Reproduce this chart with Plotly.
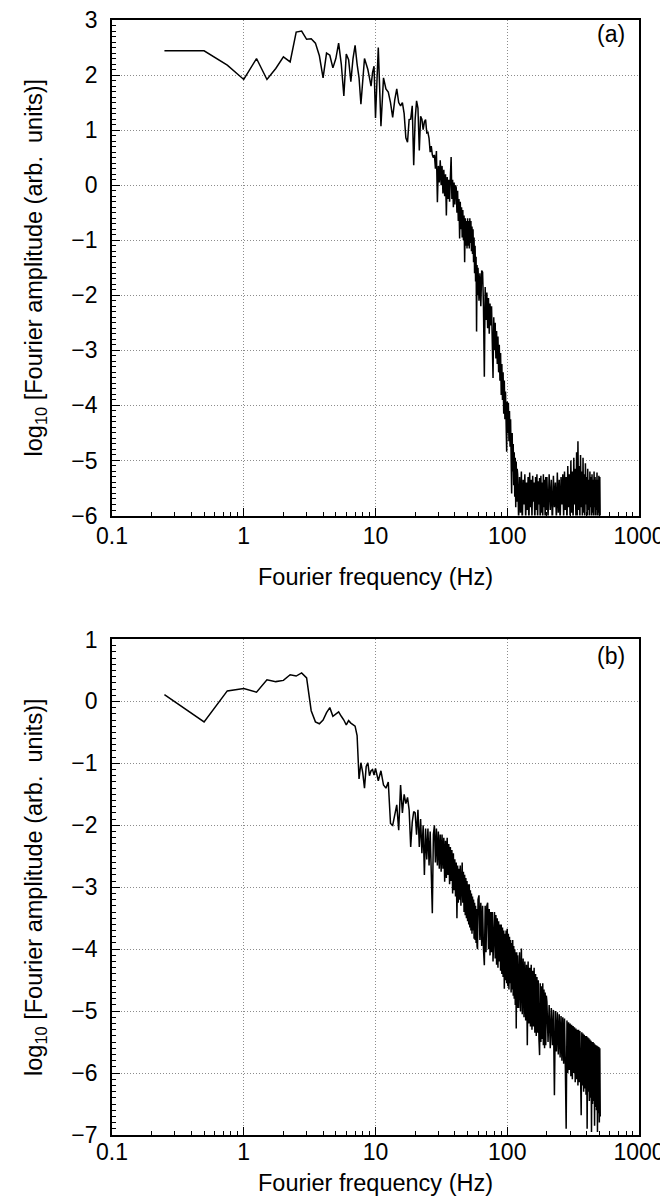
import plotly.graph_objects as go

# ---------------- shared Fourier-frequency grid (Hz) ----------------
freq_low = [0.25, 0.5, 0.75, 1.0, 1.25, 1.5, 1.75, 2.0, 2.25, 2.5,
            2.75, 3.0, 3.25, 3.5, 3.75, 4.0, 4.25, 4.5, 4.75, 5.0,
            5.25, 5.5, 5.75, 6.0, 6.25, 6.5, 6.75, 7.0, 7.25, 7.5,
            7.75, 8.0, 8.25, 8.5, 8.75, 9.0, 9.25, 9.5, 9.75, 10.0]
freq_mid = [10.5, 11.0, 11.5, 12.0, 12.5, 13.0, 13.5, 14.0, 14.5, 15.0,
            15.5, 16.0, 16.5, 17.0, 17.5, 18.0, 18.5, 19.0, 19.5, 20.0,
            20.5, 21.0, 21.5, 22.0, 22.5, 23.0, 23.5, 24.0, 24.5, 25.0,
            25.5, 26.0, 26.5, 27.0, 27.5, 28.0, 28.5, 29.0, 29.5, 30.0,
            30.5, 31.0, 31.5, 32.0, 32.5, 33.0, 33.5, 34.0, 34.5, 35.0,
            35.5, 36.0, 36.5, 37.0, 37.5, 38.0, 38.5, 39.0, 39.5, 40.0,
            40.5, 41.0, 41.5, 42.0, 42.5, 43.0, 43.5, 44.0, 44.5, 45.0,
            45.5, 46.0, 46.5, 47.0, 47.5, 48.0, 48.5, 49.0, 49.5, 50.0,
            50.5, 51.0, 51.5, 52.0, 52.5, 53.0, 53.5, 54.0, 54.5, 55.0,
            55.5, 56.0, 56.5, 57.0, 57.5, 58.0, 58.5, 59.0, 59.5]
freq_high1 = [60, 61, 62, 63, 64, 65, 66, 67, 68, 69,
              70, 71, 72, 73, 74, 75, 76, 77, 78, 79,
              80, 81, 82, 83, 84, 85, 86, 87, 88, 89,
              90, 91, 92, 93, 94, 95, 96, 97, 98, 99,
              100, 101, 102, 103, 104, 105, 106, 107, 108, 109,
              110, 111, 112, 113, 114, 115, 116, 117, 118, 119]
freq_high2 = [120, 122, 124, 126, 128, 130, 132, 134, 136, 138,
              140, 142, 144, 146, 148, 150, 152, 154, 156, 158,
              160, 162, 164, 166, 168, 170, 172, 174, 176, 178,
              180, 182, 184, 186, 188, 190, 192, 194, 196, 198]
freq_high3 = [200, 204, 208, 212, 216, 220, 224, 228, 232, 236,
              240, 244, 248, 252, 256, 260, 264, 268, 272, 276,
              280, 284, 288, 292, 296, 300, 304, 308, 312, 316,
              320, 324, 328, 332, 336, 340, 344, 348, 352, 356,
              360, 364, 368, 372, 376, 380, 384, 388, 392, 396,
              400, 404, 408, 412, 416, 420, 424, 428, 432, 436,
              440, 444, 448, 452, 456, 460, 464, 468, 472, 476,
              480, 484, 488, 492, 496, 500, 504, 508]

# ---------------- panel (a): log10 Fourier amplitude ----------------
amp_a_low = [2.44, 2.44, 2.18, 1.92, 2.30, 1.92, 2.12, 2.33, 2.24, 2.78,
             2.80, 2.65, 2.66, 2.58, 2.35, 1.95, 2.40, 2.36, 2.13, 2.30,
             2.58, 2.20, 1.62, 2.38, 2.28, 1.88, 2.30, 2.54, 2.20, 1.95,
             1.47, 1.90, 2.30, 2.20, 2.10, 1.95, 1.80, 2.05, 2.16, 1.22]
amp_a_mid = [2.50, 1.07, 1.95, 1.75, 1.69, 1.50, 1.23, 1.55, 1.75, 1.50,
             1.44, 1.50, 1.30, 0.86, 0.78, 1.19, 1.20, 1.44, 0.36, 1.20,
             1.53, 1.40, 0.63, 1.25, 1.20, 1.01, 1.15, 1.19, 0.95, 0.96,
             0.85, 0.60, 0.71, 0.55, 0.50, 0.55, 0.30, 0.62, -0.31, 0.35,
             0.05, 0.45, 0.00, 0.35, -0.15, 0.28, -0.20, 0.20, -0.55, 0.15,
             -0.25, 0.10, -0.30, 0.15, 0.51, -0.25, 0.10, -0.40, 0.05, -0.35,
             0.00, -0.05, -0.50, -0.10, -0.65, -0.25, -0.97, -0.30, -0.80, -0.40,
             -0.95, -0.45, -1.00, -0.55, -1.40, -0.60, -1.10, -0.65, -1.15, -0.60,
             -1.10, -0.65, -1.15, -0.60, -1.05, -0.65, -1.20, -0.75, -1.25, -0.80,
             -1.40, -0.95, -1.60, -1.10, -1.75, -1.30, -2.66, -1.45, -2.00]
amp_a_high1 = [-1.50, -2.10, -1.60, -2.20, -1.55, -1.58, -2.20, -3.48, -1.85, -2.45,
               -1.95, -2.60, -2.05, -2.70, -2.15, -2.55, -2.20, -2.85, -3.50, -2.40,
               -3.00, -2.50, -3.15, -2.65, -3.25, -2.75, -3.40, -2.90, -3.55, -3.05,
               -3.81, -3.25, -3.90, -3.40, -4.15, -3.55, -4.25, -3.75, -4.45, -4.84,
               -3.93, -4.50, -3.95, -4.65, -4.10, -4.75, -4.25, -4.90, -5.60, -4.50,
               -5.20, -4.70, -5.45, -4.85, -5.66, -4.95, -5.85, -5.02, -5.75, -5.15]
amp_a_high2 = [-5.25, -6.10, -5.30, -5.95, -5.20, -6.20, -5.35, -5.80, -5.25, -6.10,
               -5.40, -5.90, -5.30, -6.20, -5.22, -5.85, -5.35, -6.05, -5.28, -5.75,
               -5.40, -6.15, -5.30, -5.90, -5.25, -6.10, -5.38, -5.80, -5.32, -6.20,
               -5.28, -5.95, -5.40, -6.05, -5.25, -5.85, -5.35, -6.15, -5.30, -5.90]
amp_a_high3 = [-5.30, -6.05, -5.25, -5.90, -5.35, -6.20, -5.28, -5.85, -5.40, -6.10,
               -5.22, -5.95, -5.35, -6.15, -5.30, -5.80, -5.25, -6.05, -5.20, -5.90,
               -5.30, -6.20, -5.10, -5.85, -5.25, -6.10, -5.00, -5.95, -5.20, -6.15,
               -4.95, -5.80, -5.15, -6.05, -4.85, -6.20, -4.65, -5.90, -5.10, -6.10,
               -4.90, -5.85, -5.20, -6.15, -4.95, -5.95, -5.25, -6.05, -5.05, -5.80,
               -5.30, -6.20, -5.15, -5.90, -5.35, -6.10, -5.20, -5.85, -5.30, -6.05,
               -5.25, -5.95, -5.35, -6.20, -5.20, -5.85, -5.30, -6.10, -5.35, -5.90,
               -5.22, -6.15, -5.35, -5.95, -5.28, -6.05, -5.30, -6.20]

# ---------------- panel (b): log10 Fourier amplitude ----------------
amp_b_low = [0.11, -0.33, 0.17, 0.21, 0.15, 0.35, 0.32, 0.34, 0.43, 0.41,
             0.46, 0.38, -0.15, -0.33, -0.36, -0.30, -0.18, -0.10, -0.24, -0.20,
             -0.17, -0.24, -0.30, -0.38, -0.31, -0.35, -0.37, -0.40, -0.55, -1.25,
             -0.99, -1.15, -1.40, -1.05, -0.99, -1.20, -1.12, -1.10, -1.19, -1.08]
amp_b_mid = [-1.28, -1.12, -1.35, -1.40, -1.30, -1.97, -2.00, -1.85, -1.67, -2.08,
             -1.35, -1.80, -1.50, -1.65, -1.55, -1.75, -2.35, -1.95, -1.78, -1.80,
             -2.15, -1.75, -2.35, -1.90, -2.45, -2.00, -2.80, -2.05, -2.55, -2.05,
             -2.65, -2.10, -2.75, -3.42, -2.15, -2.00, -2.60, -2.05, -2.65, -2.10,
             -2.70, -2.15, -2.75, -2.15, -2.70, -2.20, -2.91, -2.25, -2.85, -2.20,
             -2.80, -2.30, -2.95, -2.35, -2.90, -2.40, -3.10, -2.45, -3.05, -2.55,
             -3.15, -2.60, -3.50, -2.65, -3.25, -2.70, -3.20, -2.65, -3.30, -2.70,
             -2.60, -3.25, -2.75, -3.40, -2.80, -3.45, -2.85, -3.50, -2.90, -3.55,
             -2.95, -3.60, -2.95, -3.65, -3.05, -3.70, -3.10, -3.75, -3.15, -3.70,
             -3.20, -3.83, -3.25, -3.85, -3.30, -3.90, -3.35, -3.95, -4.00]
amp_b_high1 = [-3.20, -3.13, -3.85, -3.25, -3.95, -3.30, -4.00, -4.26, -3.30, -4.05,
               -3.30, -3.25, -4.00, -3.35, -4.10, -3.40, -4.05, -3.40, -4.20, -3.45,
               -3.40, -4.15, -3.45, -4.25, -3.50, -4.30, -3.55, -4.20, -3.60, -4.35,
               -3.60, -4.40, -3.65, -4.45, -3.70, -4.64, -3.75, -4.50, -3.70, -4.55,
               -3.67, -4.60, -3.75, -4.65, -3.80, -4.55, -3.85, -4.70, -3.90, -4.65,
               -3.85, -4.75, -3.95, -4.80, -4.00, -4.90, -4.05, -5.28, -4.05, -4.95]
amp_b_high2 = [-4.10, -4.95, -4.05, -5.00, -3.99, -5.05, -4.15, -5.10, -4.20, -5.15,
               -4.25, -5.55, -4.20, -5.20, -4.30, -5.25, -4.25, -5.30, -4.35, -5.25,
               -4.30, -5.35, -4.40, -5.40, -4.45, -5.35, -4.50, -5.45, -5.71, -4.55,
               -5.50, -4.60, -5.45, -4.55, -5.55, -4.65, -5.60, -4.70, -5.55, -4.75]
amp_b_high3 = [-4.85, -5.50, -4.90, -5.60, -4.95, -5.55, -4.98, -6.36, -5.00, -5.65,
               -5.02, -5.70, -5.05, -5.75, -5.08, -5.80, -5.10, -5.85, -5.12, -5.90,
               -6.90, -5.15, -6.00, -5.18, -5.95, -5.20, -6.05, -5.22, -6.10, -5.24,
               -6.00, -5.26, -6.15, -5.28, -6.10, -5.30, -6.20, -5.30, -6.15, -5.32,
               -6.25, -6.68, -5.34, -6.20, -5.36, -6.30, -5.38, -6.25, -5.40, -6.35,
               -5.40, -6.90, -5.42, -6.30, -5.44, -6.45, -5.46, -6.40, -5.48, -6.95,
               -5.50, -6.50, -5.50, -6.45, -5.52, -6.85, -5.54, -6.55, -5.55, -6.60,
               -5.56, -6.95, -5.57, -6.65, -5.58, -6.80, -5.60, -6.70]

# ---------------- axis ticks and labels ----------------
x_tick_vals = [0.1, 1, 10, 100, 1000]
x_tick_text = ["0.1", "1", "10", "100", "1000"]
x_minor_vals = [0.2, 0.3, 0.4, 0.5, 0.6, 0.7, 0.8, 0.9,
                2, 3, 4, 5, 6, 7, 8, 9,
                20, 30, 40, 50, 60, 70, 80, 90,
                200, 300, 400, 500, 600, 700, 800, 900]
y_a_ticks = [3, 2, 1, 0, -1, -2, -3, -4, -5, -6]
y_b_ticks = [1, 0, -1, -2, -3, -4, -5, -6, -7]
x_title = "Fourier frequency (Hz)"
y_title = "log<sub>10</sub> [Fourier amplitude (arb.\u00a0 units)]"
panel_labels = ["(a)", "(b)"]

freq = freq_low + freq_mid + freq_high1 + freq_high2 + freq_high3
amp_a = amp_a_low + amp_a_mid + amp_a_high1 + amp_a_high2 + amp_a_high3
amp_b = amp_b_low + amp_b_mid + amp_b_high1 + amp_b_high2 + amp_b_high3


def minus(v):
    return str(v).replace("-", "\u2212")


FONT = "Liberation Sans, Arial, Helvetica, sans-serif"
TICK_SIZE = 23
TITLE_SIZE = 23.5
GRID = dict(showgrid=True, gridcolor="#8c8c8c", griddash="1px,2px", gridwidth=1)

fig = go.Figure()
fig.add_trace(go.Scatter(x=freq, y=amp_a, mode="lines", xaxis="x", yaxis="y",
                         line=dict(color="black", width=1.5), showlegend=False,
                         name="(a)"))
fig.add_trace(go.Scatter(x=freq, y=amp_b, mode="lines", xaxis="x2", yaxis="y2",
                         line=dict(color="black", width=1.5), showlegend=False,
                         name="(b)"))


def xaxis_style(anchor, label_standoff, title_standoff):
    return dict(
        type="log", range=[-1, 3], anchor=anchor, automargin=False,
        tickvals=x_tick_vals, ticktext=x_tick_text,
        ticks="inside", ticklen=8, tickwidth=1.2, tickcolor="black",
        ticklabelstandoff=label_standoff, ticklabeloverflow="allow",
        showline=True, linecolor="black", linewidth=2, mirror=True,
        zeroline=False, **GRID,
        minor=dict(tickvals=x_minor_vals, ticks="inside", ticklen=4,
                   tickwidth=1, tickcolor="black", showgrid=False),
        tickfont=dict(size=TICK_SIZE, family=FONT, color="black"),
        title=dict(text=x_title,
                   font=dict(size=TITLE_SIZE, family=FONT, color="black"),
                   standoff=title_standoff),
    )


def yaxis_style(anchor, rng, ticks, domain):
    return dict(
        range=rng, anchor=anchor, domain=domain, automargin=False,
        tickvals=ticks, ticktext=[minus(t) for t in ticks],
        ticks="inside", ticklen=8, tickwidth=1.2, tickcolor="black",
        ticklabelstandoff=8, ticklabeloverflow="allow",
        showline=True, linecolor="black", linewidth=1.8, mirror=True,
        zeroline=False, **GRID,
        minor=dict(dtick=0.1, ticks="inside", ticklen=4, tickwidth=1,
                   tickcolor="black", showgrid=False),
        tickfont=dict(size=TICK_SIZE, family=FONT, color="black"),
        title=dict(text=y_title,
                   font=dict(size=TITLE_SIZE, family=FONT, color="black"),
                   standoff=22),
    )


fig.update_layout(
    width=668, height=1199,
    margin=dict(l=104, r=37, t=12, b=72),
    paper_bgcolor="white", plot_bgcolor="white",
    font=dict(family=FONT, size=22, color="black"),
    showlegend=False,
    xaxis=xaxis_style("y", -1, 20),
    yaxis=yaxis_style("x", [-6, 3], y_a_ticks, [0.5556, 1.0]),
    xaxis2=xaxis_style("y2", -5, 11),
    yaxis2=yaxis_style("x2", [-7, 1], y_b_ticks, [0.0, 0.4444]),
    annotations=[
        dict(text=panel_labels[0], xref="x domain", yref="y domain",
             x=0.947, y=0.972, xanchor="center", yanchor="middle",
             showarrow=False,
             font=dict(size=TICK_SIZE, family=FONT, color="black")),
        dict(text=panel_labels[1], xref="x2 domain", yref="y2 domain",
             x=0.947, y=0.966, xanchor="center", yanchor="middle",
             showarrow=False,
             font=dict(size=TICK_SIZE, family=FONT, color="black")),
    ],
)

fig.write_html("out.html")
